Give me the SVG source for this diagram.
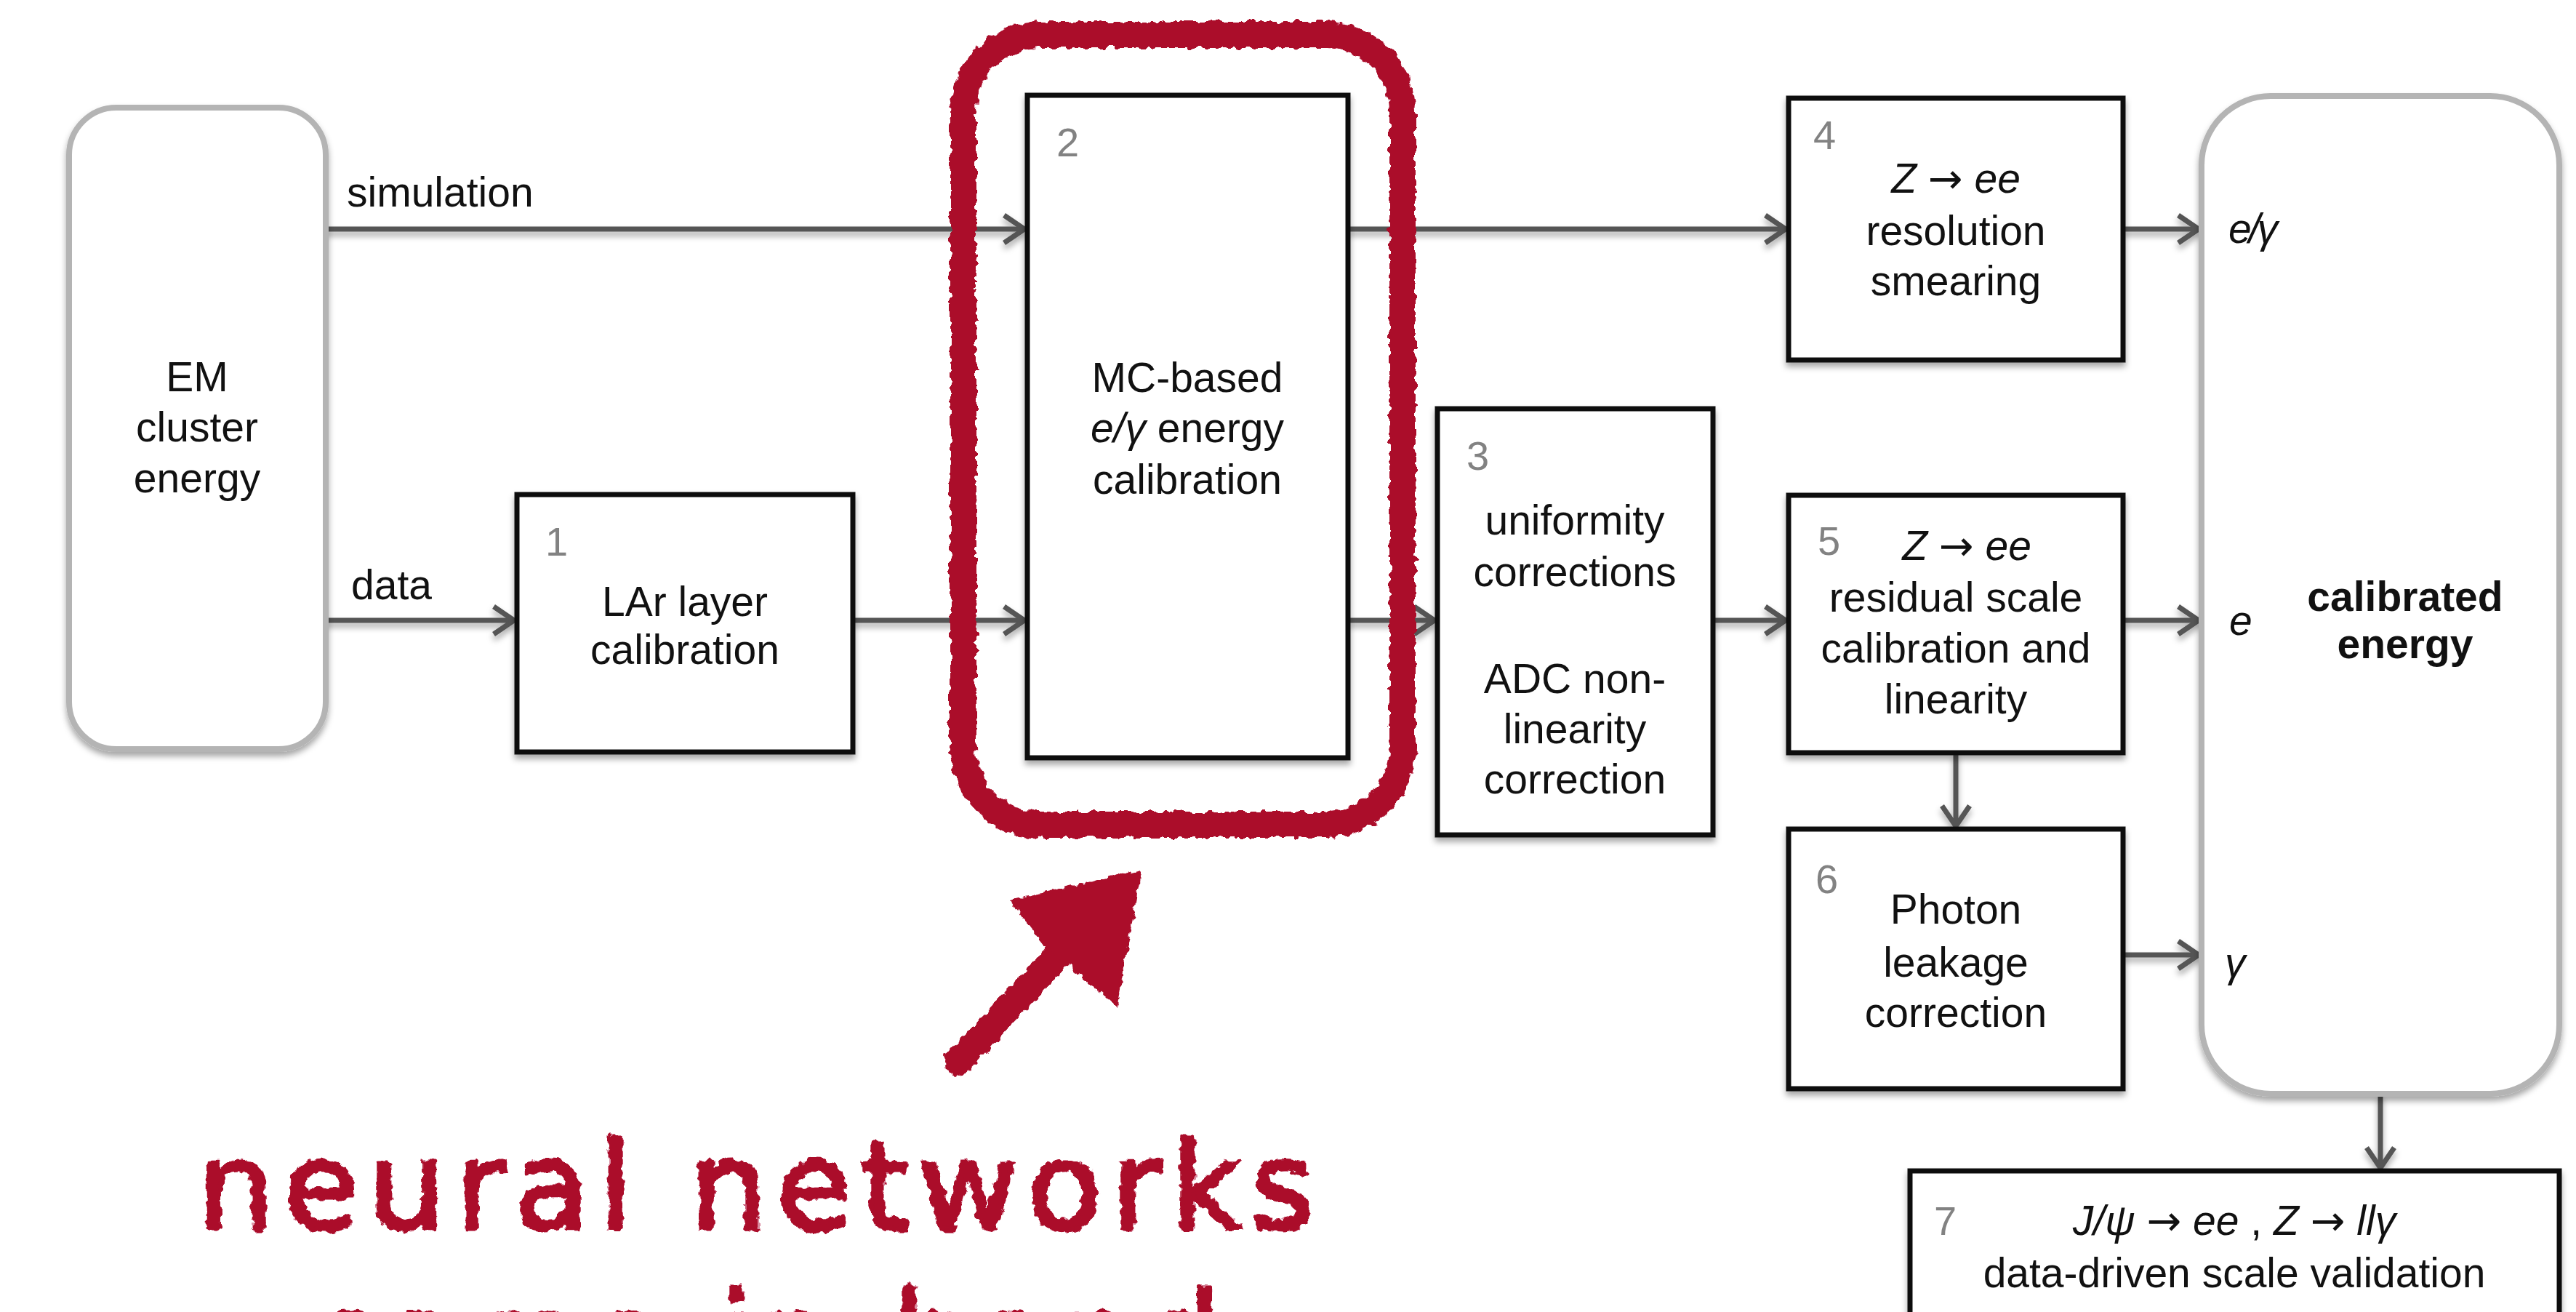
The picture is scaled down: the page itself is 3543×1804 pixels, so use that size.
<svg xmlns="http://www.w3.org/2000/svg" width="3543" height="1804" viewBox="0 0 3543 1804">
<defs>
<style>
.box{fill:#fff;stroke:#111;stroke-width:7}
.soft{fill:#fff;stroke:#b4b4b4;stroke-width:8}
.t{font-family:"Liberation Sans",Arial,sans-serif;font-size:57px;fill:#111;text-anchor:middle}
.lbl{font-family:"Liberation Sans",Arial,sans-serif;font-size:57px;fill:#111}
.num{font-family:"Liberation Sans",Arial,sans-serif;font-size:56px;fill:#828282}
.i{font-style:italic}
.b{font-weight:bold}
.ar{font-family:"DejaVu Sans",sans-serif;font-style:normal}
.con{fill:none;stroke:#555;stroke-width:7}
.red{fill:none;stroke:#ab0a2c}
.hand{font-family:"DejaVu Sans",sans-serif;font-size:168px;fill:#ab0a2c;stroke:#ab0a2c;stroke-width:5;stroke-linejoin:round}
</style>
<filter id="sh" x="-10%" y="-10%" width="120%" height="130%">
<feDropShadow dx="0" dy="6" stdDeviation="4" flood-color="#000" flood-opacity="0.35"/>
</filter>
<filter id="rough" x="-5%" y="-5%" width="110%" height="110%">
<feTurbulence type="fractalNoise" baseFrequency="0.09" numOctaves="2" seed="3" result="n"/>
<feDisplacementMap in="SourceGraphic" in2="n" scale="12" xChannelSelector="R" yChannelSelector="G"/>
</filter>
<marker id="arr" markerUnits="userSpaceOnUse" viewBox="-36 -26 40 52" markerWidth="40" markerHeight="52" refX="0" refY="0" orient="auto">
<path d="M-28,-19 L0,0 L-28,19" fill="none" stroke="#555" stroke-width="7" stroke-linejoin="miter"/>
</marker>
</defs>
<rect width="3543" height="1804" fill="#fff"/>

<g id="connectors" filter="url(#sh)">
<line class="con" x1="448" y1="315" x2="1409" y2="315" marker-end="url(#arr)"/>
<line class="con" x1="1854" y1="315" x2="2456" y2="315" marker-end="url(#arr)"/>
<line class="con" x1="448" y1="853" x2="707" y2="853" marker-end="url(#arr)"/>
<line class="con" x1="1173" y1="853" x2="1409" y2="853" marker-end="url(#arr)"/>
<line class="con" x1="1854" y1="853" x2="1973" y2="853" marker-end="url(#arr)"/>
<line class="con" x1="2356" y1="853" x2="2456" y2="853" marker-end="url(#arr)"/>
<line class="con" x1="2920" y1="315" x2="3024" y2="315" marker-end="url(#arr)"/>
<line class="con" x1="2920" y1="853" x2="3024" y2="853" marker-end="url(#arr)"/>
<line class="con" x1="2920" y1="1313" x2="3024" y2="1313" marker-end="url(#arr)"/>
<line class="con" x1="2690" y1="1035" x2="2690" y2="1136" marker-end="url(#arr)"/>
<line class="con" x1="3274" y1="1504" x2="3274" y2="1606" marker-end="url(#arr)"/>
</g>

<g id="em-cluster-energy">
<rect class="soft" x="95" y="148" width="353" height="882" rx="65" filter="url(#sh)"/>
<text class="t" x="271" y="538">EM</text>
<text class="t" x="271" y="607">cluster</text>
<text class="t" x="271" y="677">energy</text>
</g>

<g id="label-simulation"><text class="lbl" x="477" y="284">simulation</text></g>
<g id="label-data"><text class="lbl" x="483" y="824">data</text></g>

<g id="box1">
<rect class="box" x="711" y="680" width="462" height="354" filter="url(#sh)"/>
<text class="num" x="750" y="764">1</text>
<text class="t" x="942" y="847">LAr layer</text>
<text class="t" x="942" y="913">calibration</text>
</g>

<g id="box2">
<rect class="box" x="1413" y="131" width="441" height="911" filter="url(#sh)"/>
<text class="num" x="1453" y="215">2</text>
<text class="t" x="1633" y="539">MC-based</text>
<text class="t" x="1633" y="608"><tspan class="i">e/γ</tspan> energy</text>
<text class="t" x="1633" y="679">calibration</text>
</g>

<g id="box3">
<rect class="box" x="1977" y="562" width="379" height="586" filter="url(#sh)"/>
<text class="num" x="2017" y="646">3</text>
<text class="t" x="2166" y="735">uniformity</text>
<text class="t" x="2166" y="806">corrections</text>
<text class="t" x="2166" y="953">ADC non-</text>
<text class="t" x="2166" y="1022">linearity</text>
<text class="t" x="2166" y="1091">correction</text>
</g>

<g id="box4">
<rect class="box" x="2460" y="135" width="460" height="360" filter="url(#sh)"/>
<text class="num" x="2494" y="205">4</text>
<text class="t" x="2690" y="265"><tspan class="i">Z</tspan> <tspan class="ar">→</tspan> <tspan class="i">ee</tspan></text>
<text class="t" x="2690" y="337">resolution</text>
<text class="t" x="2690" y="406">smearing</text>
</g>

<g id="box5">
<rect class="box" x="2460" y="681" width="460" height="354" filter="url(#sh)"/>
<text class="num" x="2500" y="763">5</text>
<text class="t" x="2705" y="770"><tspan class="i">Z</tspan> <tspan class="ar">→</tspan> <tspan class="i">ee</tspan></text>
<text class="t" x="2690" y="841">residual scale</text>
<text class="t" x="2690" y="911">calibration and</text>
<text class="t" x="2690" y="981">linearity</text>
</g>

<g id="box6">
<rect class="box" x="2460" y="1140" width="460" height="357" filter="url(#sh)"/>
<text class="num" x="2497" y="1228">6</text>
<text class="t" x="2690" y="1270">Photon</text>
<text class="t" x="2690" y="1343">leakage</text>
<text class="t" x="2690" y="1412">correction</text>
</g>

<g id="calibrated-energy">
<rect class="soft" x="3028" y="132" width="492" height="1372" rx="95" filter="url(#sh)"/>
<text class="lbl i" x="3065" y="334" letter-spacing="-4">e/γ</text>
<text class="lbl i" x="3066" y="873">e</text>
<text class="lbl i" x="3060" y="1343">γ</text>
<text class="t b" x="3308" y="840">calibrated</text>
<text class="t b" x="3308" y="905">energy</text>
</g>

<g id="box7">
<rect class="box" x="2627" y="1610" width="893" height="260" filter="url(#sh)"/>
<text class="num" x="2660" y="1698">7</text>
<text class="t" x="3073" y="1698"><tspan class="i">J/ψ</tspan> <tspan class="ar">→</tspan> <tspan class="i">ee</tspan> , <tspan class="i">Z</tspan> <tspan class="ar">→</tspan> <tspan class="i">llγ</tspan></text>
<text class="t" x="3073" y="1770">data-driven scale validation</text>
</g>

<g id="annotation" filter="url(#rough)">
<rect class="red" x="1325" y="48" width="604" height="1086" rx="105" stroke-width="36"/>
<line x1="1318" y1="1460" x2="1470" y2="1298" stroke="#ab0a2c" stroke-width="38" stroke-linecap="round"/>
<polygon points="1570,1196 1388,1238 1440,1304 1466,1324 1536,1386" fill="#ab0a2c"/>
<text class="hand" x="271" y="1690" textLength="1537" lengthAdjust="spacing">neural networks</text>
<text class="hand" x="422" y="1898" textLength="1258" lengthAdjust="spacing">come in hand</text>
</g>
</svg>
